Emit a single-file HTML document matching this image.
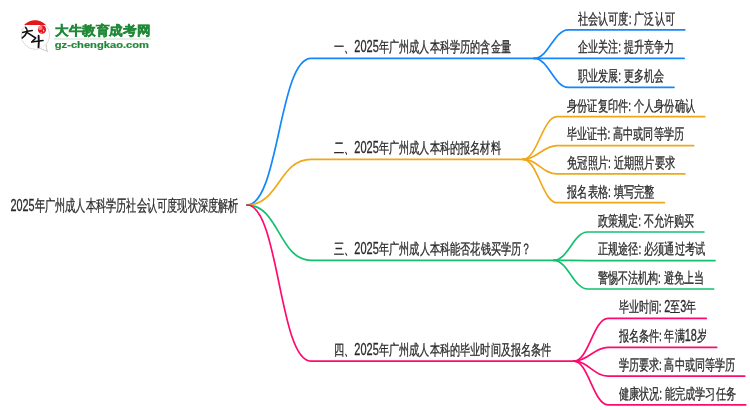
<!DOCTYPE html>
<html><head><meta charset="utf-8"><style>
html,body{margin:0;padding:0;background:#fff;}
body{width:750px;height:410px;overflow:hidden;position:relative;font-family:"Liberation Sans",sans-serif;}
svg{position:absolute;left:0;top:0;will-change:transform;}
</style></head><body>
<svg width="750" height="410" viewBox="0 0 750 410">

<g id="logo">
<circle cx="35.5" cy="35.2" r="14.2" fill="#fff" stroke="#d2d2d2" stroke-width="0.8"/>
<path d="M46.4,44.6 Q45.6,47.6 47.6,51.6 Q44.2,50 40.6,48.6" fill="#fff" stroke="#c4c4c4" stroke-width="0.9" stroke-linejoin="round"/>
<path d="M24.1,24.9 A15.2,15.2 0 0 1 45.9,24.9 Z" fill="#e3161b"/>
<ellipse cx="42" cy="29.5" rx="4.1" ry="4.3" fill="#e8141b"/>
<ellipse cx="40.4" cy="27.9" rx="2.2" ry="2.1" fill="#f28a8e"/>
<ellipse cx="43.6" cy="30.6" rx="0.7" ry="1.1" fill="#f8c8c8"/>
<ellipse cx="41.2" cy="32.6" rx="0.9" ry="0.5" fill="#f49a9a"/>
<g stroke="#111" stroke-linecap="round" stroke-linejoin="round" fill="none">
<path d="M22.7,32.4 Q27.5,31.2 32.3,30.5" stroke-width="1.5"/>
<path d="M25.7,27.4 Q27.6,29.6 27.2,31.6 Q25.6,35.4 22.3,37.9" stroke-width="1.6"/>
<path d="M27.6,32.9 L35.7,38 L31.7,42.1 L43,40.5" stroke-width="1.55"/>
<path d="M38.6,35.8 Q39.1,41.8 38.5,47.4" stroke-width="1.9"/>
</g>
</g>
<text x="55.1" y="34.6" font-size="12.9" font-weight="bold" fill="#218838" stroke="#218838" stroke-width="0.45" textLength="95.2" lengthAdjust="spacingAndGlyphs">大牛教育成考网</text>
<rect x="54" y="38.4" width="97" height="1.2" fill="#d5e3d8"/>
<text x="54.8" y="48.2" font-size="9.5" font-weight="bold" fill="#218838" stroke="#218838" stroke-width="0.2" textLength="94.2" lengthAdjust="spacingAndGlyphs">gz-chengkao.com</text>

<g fill="none" stroke-width="1.7" stroke-linecap="round">
<path d="M247.0,205.0 C279.0,205.0 279.0,58.4 311,58.4 L534.2,58.4" stroke="#1488fa"/>
<path d="M534.2,58.4 C548.48,58.4 553.92,29.8 568.20,29.8 L684.8,29.8" stroke="#1488fa"/>
<path d="M534.2,58.4 C548.48,58.4 553.92,58.4 568.20,58.4 L684.1,58.4" stroke="#1488fa"/>
<path d="M534.2,58.4 C548.48,58.4 553.92,87.3 568.20,87.3 L674.0,87.3" stroke="#1488fa"/>
<path d="M247.0,205.0 C279.0,205.0 279.0,159.3 311,159.3 L523.0,159.3" stroke="#f0a818"/>
<path d="M523.0,159.3 C537.28,159.3 542.72,116.7 557.00,116.7 L704.7,116.7" stroke="#f0a818"/>
<path d="M523.0,159.3 C537.28,159.3 542.72,145.6 557.00,145.6 L693.7,145.6" stroke="#f0a818"/>
<path d="M523.0,159.3 C537.28,159.3 542.72,173.9 557.00,173.9 L684.9,173.9" stroke="#f0a818"/>
<path d="M523.0,159.3 C537.28,159.3 542.72,202.7 557.00,202.7 L664.4,202.7" stroke="#f0a818"/>
<path d="M247.0,205.0 C279.0,205.0 279.0,260.3 311,260.3 L553.75,260.3" stroke="#14c070"/>
<path d="M553.75,260.3 C568.03,260.3 573.47,232.0 587.75,232.0 L703.9,232.0" stroke="#14c070"/>
<path d="M553.75,260.3 C568.03,260.3 573.47,260.6 587.75,260.6 L715.0,260.6" stroke="#14c070"/>
<path d="M553.75,260.3 C568.03,260.3 573.47,289.0 587.75,289.0 L713.6,289.0" stroke="#14c070"/>
<path d="M247.0,205.0 C279.0,205.0 279.0,361.2 311,361.2 L574.0,361.2" stroke="#ff0a6e"/>
<path d="M574.0,361.2 C588.28,361.2 593.72,318.4 608.00,318.4 L706.2,318.4" stroke="#ff0a6e"/>
<path d="M574.0,361.2 C588.28,361.2 593.72,347.4 608.00,347.4 L716.7,347.4" stroke="#ff0a6e"/>
<path d="M574.0,361.2 C588.28,361.2 593.72,376.1 608.00,376.1 L744.8,376.1" stroke="#ff0a6e"/>
<path d="M574.0,361.2 C588.28,361.2 593.72,404.9 608.00,404.9 L745.7,404.9" stroke="#ff0a6e"/>
</g>
<g style="font-family:'Liberation Sans',sans-serif" font-size="15" fill="#2a2a2a" stroke="#2a2a2a" stroke-width="0.3">
<text x="334.0" y="52.2" textLength="177.0" lengthAdjust="spacingAndGlyphs">一、<tspan font-size="16.2">2025</tspan>年广州成人本科学历的含金量</text>
<text x="577.8" y="23.6" textLength="97.2" lengthAdjust="spacingAndGlyphs">社会认可度: 广泛认可</text>
<text x="577.8" y="52.2" textLength="96.5" lengthAdjust="spacingAndGlyphs">企业关注: 提升竞争力</text>
<text x="577.8" y="81.1" textLength="86.4" lengthAdjust="spacingAndGlyphs">职业发展: 更多机会</text>
<text x="334.0" y="153.1" textLength="166.8" lengthAdjust="spacingAndGlyphs">二、<tspan font-size="16.2">2025</tspan>年广州成人本科的报名材料</text>
<text x="567.1" y="110.5" textLength="127.8" lengthAdjust="spacingAndGlyphs">身份证复印件: 个人身份确认</text>
<text x="567.1" y="139.4" textLength="116.8" lengthAdjust="spacingAndGlyphs">毕业证书: 高中或同等学历</text>
<text x="567.1" y="167.7" textLength="108.0" lengthAdjust="spacingAndGlyphs">免冠照片: 近期照片要求</text>
<text x="567.1" y="196.5" textLength="87.5" lengthAdjust="spacingAndGlyphs">报名表格: 填写完整</text>
<text x="334.0" y="254.1" textLength="197.6" lengthAdjust="spacingAndGlyphs">三、<tspan font-size="16.2">2025</tspan>年广州成人本科能否花钱买学历？</text>
<text x="597.8" y="225.8" textLength="96.4" lengthAdjust="spacingAndGlyphs">政策规定: 不允许购买</text>
<text x="597.8" y="254.4" textLength="107.4" lengthAdjust="spacingAndGlyphs">正规途径: 必须通过考试</text>
<text x="597.8" y="282.8" textLength="106.0" lengthAdjust="spacingAndGlyphs">警惕不法机构: 避免上当</text>
<text x="334.0" y="355.0" textLength="217.6" lengthAdjust="spacingAndGlyphs">四、<tspan font-size="16.2">2025</tspan>年广州成人本科的毕业时间及报名条件</text>
<text x="618.6" y="312.2" textLength="77.8" lengthAdjust="spacingAndGlyphs">毕业时间: <tspan font-size="16.2">2</tspan>至<tspan font-size="16.2">3</tspan>年</text>
<text x="618.6" y="341.2" textLength="88.2" lengthAdjust="spacingAndGlyphs">报名条件: 年满<tspan font-size="16.2">18</tspan>岁</text>
<text x="618.6" y="369.9" textLength="116.4" lengthAdjust="spacingAndGlyphs">学历要求: 高中或同等学历</text>
<text x="618.6" y="398.7" textLength="117.2" lengthAdjust="spacingAndGlyphs">健康状况: 能完成学习任务</text>
<text x="10.4" y="211.3" font-size="16" textLength="228.2" lengthAdjust="spacingAndGlyphs"><tspan font-size="17">2025</tspan>年广州成人本科学历社会认可度现状深度解析</text>
</g>
</svg>
</body></html>
